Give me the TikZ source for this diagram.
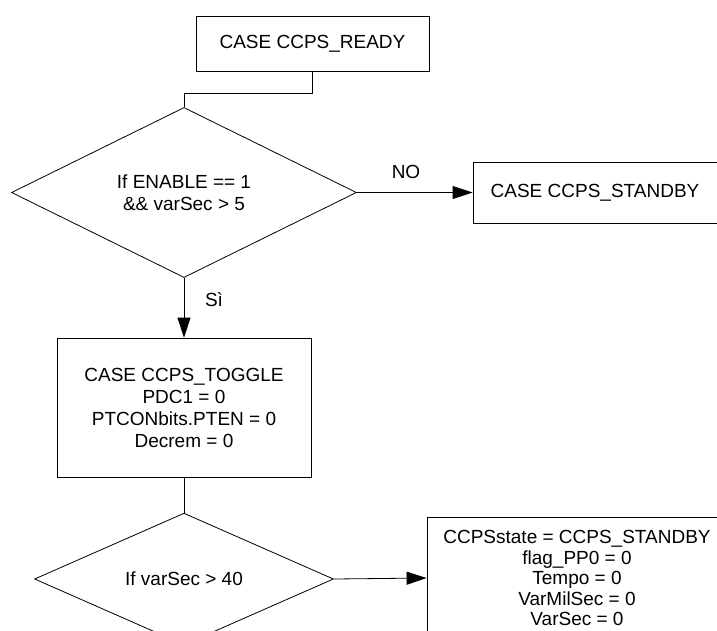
\documentclass[tikz,border=0pt]{standalone}
\usepackage{fontspec}
\setmainfont{Liberation Sans}
\usetikzlibrary{shapes.geometric,arrows.meta}
\begin{document}
\begin{tikzpicture}[x=1pt,y=-1pt,
  every node/.style={font=\fontsize{19}{22}\selectfont, align=center},
  procbox/.style={draw, line width=0.8pt, rectangle, inner sep=0pt},
  decision/.style={draw, line width=0.8pt, diamond, inner sep=0pt},
  flow/.style={line width=0.8pt},
  arrow/.style={flow, -{Triangle[length=20pt,width=13pt]}},
]
\useasboundingbox (0,0) rectangle (717,630);
\clip (0,0) rectangle (717,630);

% blocks
\node[procbox, minimum width=233pt, minimum height=55pt] (ready) at (312.5,43.5) {CASE CCPS\_READY};
\node[decision, minimum width=345pt, minimum height=153pt] (cond1) at (184,192.5) {If ENABLE == 1\\\&\& varSec > 5};
\node[procbox, minimum width=244pt, minimum height=61pt] (standby) at (595,192.5) {CASE CCPS\_STANDBY};
\node[procbox, minimum width=254pt, minimum height=139pt] (toggle) at (184,407.5) {CASE CCPS\_TOGGLE\\PDC1 = 0\\PTCONbits.PTEN = 0\\Decrem = 0};
\node[decision, minimum width=299pt, minimum height=110pt] (cond2) at (184,579) {If varSec > 40};
\node[procbox, minimum width=300pt, minimum height=122pt, font=\fontsize{19}{20.5}\selectfont] (reset) at (577,578) {CCPSstate = CCPS\_STANDBY\\flag\_PP0 = 0\\Tempo = 0\\VarMilSec = 0\\VarSec = 0};

% branch labels
\node (nolabel) at (406,172) {NO};
\node (silabel) at (214,300) {Sì};

% connectors
\draw[flow] (ready.south) -- ++(0,22) -| (cond1.north);
\draw[arrow] (cond1.east) -- (standby.west);
\draw[arrow] (cond1.south) -- (toggle.north);
\draw[flow] (toggle.south) -- (cond2.north);
\draw[arrow] (cond2.east) -- (reset.west);
\end{tikzpicture}
\end{document}
